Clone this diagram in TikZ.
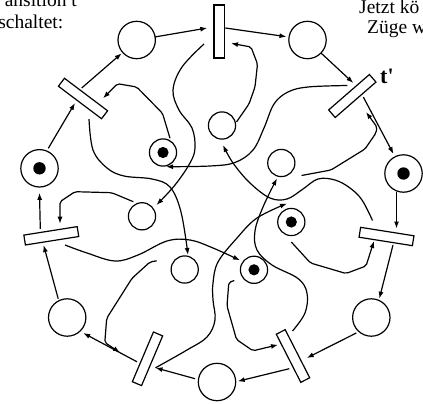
\documentclass[tikz,border=0pt]{standalone}
\usepackage{fontspec}
\setmainfont{Liberation Serif}
\usetikzlibrary{arrows.meta}
\begin{document}
\begin{tikzpicture}[x=1pt,y=-1pt,
  place/.style={circle,draw,line width=1.2pt,minimum size=37.4pt,inner sep=0pt},
  iplace/.style={circle,draw,line width=1.2pt,minimum size=27.2pt,inner sep=0pt},
  marked/.style={path picture={\fill (path picture bounding box.center) circle[radius=#1];}},
  trans/.style={rectangle,draw,line width=1.2pt,minimum width=54pt,minimum height=10pt,inner sep=0pt},
  arr/.style={line width=1.2pt,-{Latex[length=7pt,width=5pt]}},
  poly/.style={arr,rounded corners=2pt},
  curve/.style={arr},
  txt/.style={inner sep=0pt,font=\fontsize{19.5}{21.5}\selectfont}
]
\useasboundingbox (0,0) rectangle (423,404);
\clip (0,0) rectangle (423,404);

% outer places
\node[place] (P1) at (136.7,40) {};
\node[place] (P2) at (307.5,40) {};
\node[place,marked=6.2pt] (P3) at (403.5,173.5) {};
\node[place] (P4) at (371.3,317.5) {};
\node[place] (P5) at (217,382) {};
\node[place] (P6) at (67.2,317.5) {};
\node[place,marked=6.2pt] (P7) at (39.5,168.3) {};

% transitions
\node[trans,rotate=-37] (T1) at (83,98.5) {};
\node[trans,rotate=90,minimum width=53pt,minimum height=10.8pt] (T2) at (219.3,31.5) {};
\node[trans,rotate=41] (T3) at (352.3,96) {};
\node[trans,rotate=-9] (T4) at (386.5,236.5) {};
\node[trans,rotate=-63] (T5) at (293,356) {};
\node[trans,rotate=67] (T6) at (147.5,358.8) {};
\node[trans,rotate=9] (T7) at (51.3,235.8) {};

% inner places
\node[iplace,marked=5.6pt] (Q1) at (163,152.5) {};
\node[iplace] (Q2) at (222,125.5) {};
\node[iplace] (Q3) at (281.3,163) {};
\node[iplace,marked=5.6pt] (Q4) at (291.3,222) {};
\node[iplace,marked=5.6pt] (Q5) at (254,269.8) {};
\node[iplace] (Q6) at (184.7,269.5) {};
\node[iplace] (Q7) at (142,216.3) {};

% outer ring arcs
\draw[arr] ([shift={(18,-3)}]P1.center) -- ([shift={(-12,-3.5)}]T2.center);
\draw[arr] ([shift={(6,-3.5)}]T2.center) -- ([shift={(-21,-3.3)}]P2.center);
\draw[arr] ([shift={(13.5,13)}]P2.center) -- ([shift={(1,-13)}]T3.center);
\draw[arr] ([shift={(11,1)}]T3.center) -- ([shift={(-10,-19.5)}]P3.center);
\draw[arr] ([shift={(-7,18)}]P3.center) -- ([shift={(10,-8)}]T4.center);
\draw[arr] ([shift={(6.5,8.5)}]T4.center) -- ([shift={(8,-18.8)}]P4.center);
\draw[arr] ([shift={(-15,15.5)}]P4.center) -- ([shift={(13.7,2)}]T5.center);
\draw[arr] ([shift={(-3.7,12.7)}]T5.center) -- ([shift={(20.7,-0.7)}]P5.center);
\draw[arr] ([shift={(-22,-3.3)}]P5.center) -- ([shift={(8,9)}]T6.center);
\draw[arr] ([shift={(-10.5,3)}]T6.center) -- ([shift={(16,15.5)}]P6.center);
\draw[arr] ([shift={(-9,-18.8)}]P6.center) -- ([shift={(-7.7,9.3)}]T7.center);
\draw[arr] ([shift={(-11,-7)}]T7.center) -- ([shift={(0,24.5)}]P7.center);
\draw[arr] ([shift={(8.8,-20)}]P7.center) -- ([shift={(-8,4.5)}]T1.center);
\draw[arr] ([shift={(-1.3,-10.5)}]T1.center) -- ([shift={(-15,13.3)}]P1.center);

% output arcs of transitions (smooth curves)
\draw[curve] plot[smooth,tension=0.6] coordinates {([shift={(6,20.5)}]T1.center) (93,150) (107,168) (124,176) (152,179) (170,187) (181,212) ([shift={(3.3,-14.5)}]Q6.center)};
\draw[curve] plot[smooth,tension=0.6] coordinates {([shift={(-15.3,12.5)}]T2.center) (182,67) (173,90) (179,110) (192,128) (195,148) (190,163) (175,185) ([shift={(14.5,-11.3)}]Q7.center)};
\draw[curve] plot[smooth,tension=0.6] coordinates {([shift={(-5,-10.5)}]T3.center) (308,87) (288,92) (274,104) (264,128) (253,150) (235,162.5) (210,166) ([shift={(3,14.2)}]Q1.center)};
\draw[curve] plot[smooth,tension=0.6] coordinates {([shift={(-14,-16)}]T4.center) (362,200) (350,188) (335,180) (318,179) (303,189) (287,199) (270,198) (250,183) (233,163) ([shift={(1,19.5)}]Q2.center)};
\draw[curve] plot[smooth,tension=0.6] coordinates {([shift={(-0.5,-25)}]T5.center) (305,313) (307,293) (298,278.5) (272,265) (257,250) (255,231) (263,207) ([shift={(-4.3,15.3)}]Q3.center)};
\draw[curve] plot[smooth,tension=0.6] coordinates {([shift={(8,9)}]T6.center) (187,350) (207,337) (215,320) (213,300) (213,283) (218,262) (237,238) (257,218) ([shift={(-4.3,-18.5)}]Q4.center)};
\draw[curve] plot[smooth,tension=0.6] coordinates {([shift={(13.7,9.2)}]T7.center) (87,253) (115,261) (138,255) (167,241) (190,240) (213,248) ([shift={(-14,-9.5)}]Q5.center)};

% input arcs of transitions (polylines)
\draw[poly] ([shift={(7,-14.2)}]Q1.center) -- (162.5,113.3) -- (136.7,87) -- (117.5,83.7) -- ([shift={(20,-0.2)}]T1.center);
\draw[poly] ([shift={(14.5,-3.5)}]Q2.center) -- (249,104) -- (255,87) -- (257.5,64) -- (251,47) -- ([shift={(11.7,11.8)}]T2.center);
\draw[poly] ([shift={(20.2,12.5)}]Q3.center) -- (331,170) -- (365,149) -- (376,133) -- (377,127) -- ([shift={(13.7,16)}]T3.center);
\draw[poly] ([shift={(0,20)}]Q4.center) -- (310.5,263) -- (346,273.5) -- (366,266) -- ([shift={(-12.5,4.5)}]T4.center);
\draw[poly] ([shift={(-19.7,10.7)}]Q5.center) -- (228.8,282.5) -- (227,306) -- (236.5,339.5) -- (253,350.8) -- ([shift={(-15,-11.2)}]T5.center);
\draw[poly] ([shift={(-28,-8.7)}]Q6.center) -- (150,262) -- (132,278.3) -- (106.7,318.3) -- (104.8,342.5) -- ([shift={(-27.5,-6.3)}]T6.center);
\draw[poly] ([shift={(-8.7,-14.6)}]Q7.center) -- (111.7,192.7) -- (75,191.7) -- (60,201.7) -- ([shift={(8.7,-12.1)}]T7.center);

% texts
\node[txt,anchor=base east] (txtA) at (77,7) {ansition t};
\node[txt,anchor=base east] (txtB) at (63.5,28.5) {schaltet:};
\node[txt,anchor=base west] (txtC) at (359,14) {Jetzt kö};
\node[txt,anchor=base west] (txtD) at (367,34) {Züge w};
\node[inner sep=0pt,anchor=base west,font=\bfseries\fontsize{22}{24}\selectfont] (tlab) at (380,83) {t\textquotesingle};
\end{tikzpicture}
\end{document}
